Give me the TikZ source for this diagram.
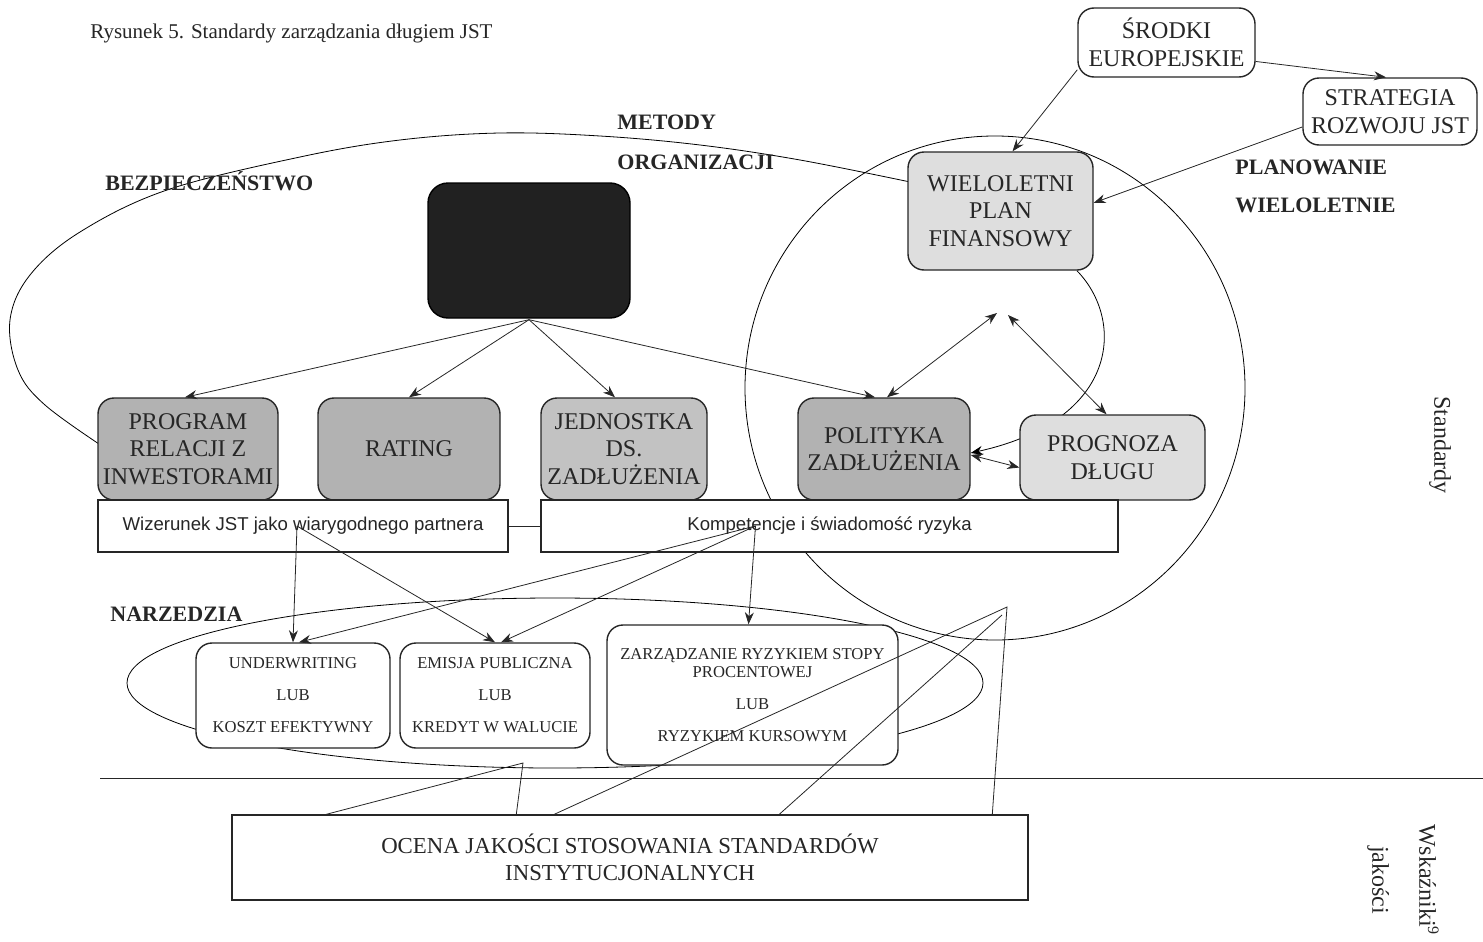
\documentclass[tikz,border=0pt]{standalone}
\usepackage{fontspec}
\setmainfont{Liberation Serif}
\setsansfont{Liberation Sans}
\usetikzlibrary{arrows.meta,calc}
\definecolor{ink}{gray}{0.15}
\definecolor{gdark}{gray}{0.70}
\definecolor{gmid}{gray}{0.76}
\definecolor{glight}{gray}{0.87}
\definecolor{gblack}{gray}{0.13}
\pgfdeclarelayer{bg}
\pgfsetlayers{bg,main}
\begin{document}
\begin{tikzpicture}[x=0.5pt,y=-0.5pt, line width=0.6pt, color=ink,
  every node/.style={text=ink, inner sep=0pt},
  rbox/.style={draw=ink, rounded corners=8pt, line width=0.7pt, align=center, fill=white},
  sbox/.style={draw=ink, line width=0.7pt, fill=white, align=center},
  arr/.style={-{Stealth[length=6pt,width=4.5pt]}},
  darr/.style={{Stealth[length=6pt,width=4.5pt]}-{Stealth[length=6pt,width=4.5pt]}},
  big/.style={font=\fontsize{12}{13.8}\selectfont},
  small/.style={font=\fontsize{8.3}{16}\selectfont},
  lbl/.style={font=\fontsize{11}{12}\selectfont\bfseries, anchor=west},
]
\useasboundingbox (0,0) rectangle (1483,942);

% ---- background curves ----
\begin{pgfonlayer}{bg}
\draw plot[smooth, tension=0.6] coordinates {(915,183) (800,160) (700,145) (600,136) (500,133) (400,140) (300,157) (167,190) (80,232) (30,275) (10,320) (18,370) (45,405) (105,448)};
\draw (995,388) ellipse [x radius=125pt, y radius=126pt];
\draw (555,683) ellipse [x radius=214pt, y radius=42.5pt];
\end{pgfonlayer}

% ---- title & labels ----
\node[anchor=west, font=\fontsize{10.5}{12}\selectfont] (title) at (90,33) {Rysunek 5. Standardy zarządzania długiem JST};
\node[lbl] (bez) at (105,181) {BEZPIECZEŃSTWO};
\node[lbl] (met) at (617,122) {METODY};
\node[lbl] (org) at (617,162) {ORGANIZACJI};
\node[lbl] (plan) at (1235,167) {PLANOWANIE};
\node[lbl] (wiel) at (1235,205) {WIELOLETNIE};
\node[lbl] (narz) at (110,614) {NARZEDZIA};
\node[rotate=-90, font=\fontsize{12}{14}\selectfont] (std) at (1440,445) {Standardy};
\node[rotate=-90, align=center, font=\fontsize{12}{23.5}\selectfont] (wsk) at (1403,880) {Wskaźniki\textsuperscript{9}\\jakości};

% ---- boxes ----
\node[rbox, big, minimum width=88.5pt, minimum height=34.5pt] (srodki) at (1166.5,42.5) {ŚRODKI\\EUROPEJSKIE};
\node[rbox, big, minimum width=87pt, minimum height=33.5pt] (strat) at (1390,111.5) {STRATEGIA\\ROZWOJU JST};
\node[rbox, big, fill=glight, minimum width=92.5pt, minimum height=59pt] (wpf) at (1000.5,211) {WIELOLETNI\\PLAN\\FINANSOWY};
\node[rbox, fill=gblack, draw=black, rounded corners=10pt, minimum width=101pt, minimum height=67.5pt] (core) at (529,250.5) {};

\node[rbox, big, fill=gdark, minimum width=90pt, minimum height=51pt] (prog) at (188,449) {PROGRAM\\RELACJI Z\\INWESTORAMI};
\node[rbox, big, fill=gdark, minimum width=91pt, minimum height=51pt] (rating) at (409,449) {RATING};
\node[rbox, big, fill=gmid, minimum width=83pt, minimum height=51pt] (jedn) at (624,449) {JEDNOSTKA\\DS.\\ZADŁUŻENIA};
\node[rbox, big, fill=gdark, minimum width=86pt, minimum height=51pt] (pol) at (884,449) {POLITYKA\\ZADŁUŻENIA};
\node[rbox, big, fill=glight, minimum width=92.5pt, minimum height=42.5pt] (progn) at (1112.5,457.5) {PROGNOZA\\DŁUGU};

\node[sbox, font=\sffamily\fontsize{9.3}{11}\selectfont, minimum width=205pt, minimum height=26pt] (wiz) at (303,526) {Wizerunek JST jako wiarygodnego partnera};
\node[sbox, font=\sffamily\fontsize{9.3}{11}\selectfont, minimum width=288.5pt, minimum height=26pt] (komp) at (829.5,526) {Kompetencje i świadomość ryzyka};

\node[rbox, small, minimum width=97pt, minimum height=52.5pt] (und) at (293,695.5) {UNDERWRITING\\LUB\\KOSZT EFEKTYWNY};
\node[rbox, small, minimum width=95pt, minimum height=52.5pt] (emi) at (495,695.5) {EMISJA PUBLICZNA\\LUB\\KREDYT W WALUCIE};
\node[rbox, font=\fontsize{8.3}{9}\selectfont, minimum width=145.5pt, minimum height=70pt] (zarz) at (752.5,695) {ZARZĄDZANIE RYZYKIEM STOPY\\PROCENTOWEJ\\[7pt]LUB\\[7pt]RYZYKIEM KURSOWYM};

\node[sbox, font=\fontsize{11.4}{13.5}\selectfont, minimum width=398pt, minimum height=42.5pt] (ocena) at (630,857.5) {OCENA JAKOŚCI STOSOWANIA STANDARDÓW\\INSTYTUCJONALNYCH};

% ---- separator ----
\draw (100,778) -- (1483,778);

% ---- connectors ----
\draw[arr] (srodki.197) -- ([xshift=6pt]wpf.north);
\draw[arr] (srodki.-12) -- ([xshift=-2pt]strat.north);
\draw[arr] (strat.190) -- (wpf.5);

\coordinate (cs) at ([yshift=-0.5pt]core.south);
\draw[arr] (cs) -- ([xshift=-1.5pt]prog.north);
\draw[arr] (cs) -- (rating.north);
\draw[arr] (cs) -- ([xshift=-4.5pt]jedn.north);
\draw[arr] (cs) -- ([xshift=-4.5pt]pol.north);

\coordinate (apL) at (997,313);
\coordinate (apR) at (1008,315);
\draw[darr] (apL) -- ([xshift=1.5pt]pol.north);
\draw[darr] (apR) -- ([xshift=-3pt]progn.north);
\begin{pgfonlayer}{bg}
\draw[arr] (wpf.-38) .. controls (1125,320) and (1120,420) .. ([yshift=-2pt]pol.east);
\end{pgfonlayer}
\draw[darr] ([yshift=-3pt]pol.east) -- ([yshift=-5pt]progn.west);

\draw (wiz.east) -- (komp.west);
\coordinate (wp) at ([xshift=-3pt]wiz.center);
\draw[arr] (wp) -- (und.north);
\draw[arr] (wp) -- (emi.north);
\coordinate (kp) at ([xshift=-37pt]komp.center);
\draw[arr] (kp) -- ([xshift=3pt]und.north);
\draw[arr] (kp) -- ([xshift=3pt]emi.north);
\draw[arr] (kp) -- ([xshift=-2pt]zarz.north);

% ---- quality lines ----
\coordinate (t1) at (523,763);
\coordinate (a1) at (1007,607);
\coordinate (a2) at (1002,615);
\draw ([xshift=47.5pt]ocena.north west) -- (t1) -- ([xshift=142.5pt]ocena.north west);
\draw ([xshift=161.5pt]ocena.north west) -- (a1) -- ([xshift=380.5pt]ocena.north west);
\draw ([xshift=274pt]ocena.north west) -- (a2);
\end{tikzpicture}
\end{document}
